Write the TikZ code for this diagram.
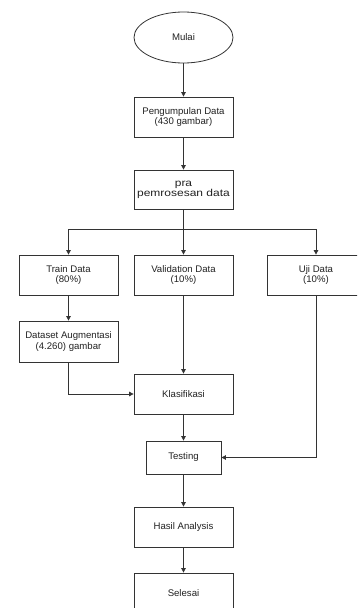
\documentclass[tikz,border=0pt]{standalone}
\usepackage{fontspec}
\setmainfont{Liberation Sans}
\newfontfamily\widefont[FakeStretch=1.2]{Liberation Sans}
\usetikzlibrary{shapes.geometric,arrows.meta}
\definecolor{linec}{HTML}{333333}
\definecolor{textc}{HTML}{222222}
\begin{document}
\begin{tikzpicture}[x=1pt,y=-1pt,
  box/.style={draw=linec, line width=0.8pt, fill=white, align=center, inner sep=0pt,
    minimum width=99pt, minimum height=40pt, font=\fontsize{9.6}{10.6}\selectfont, text=textc},
  arr/.style={draw=linec, line width=0.8pt, -{Triangle[length=4.5pt,width=4.5pt]}},
  plain/.style={draw=linec, line width=0.8pt}]
\useasboundingbox (0,0) rectangle (357,608);
\clip (0,0) rectangle (357,608);
\node[box, ellipse, minimum width=99pt, minimum height=51pt] (mulai) at (183.5,37.5) {Mulai};
\node[box] (peng) at (183.5,117) {Pengumpulan Data\\(430 gambar)};
\node[box, minimum height=39pt, font=\widefont\fontsize{10}{10}\selectfont] (pra) at (183.5,189.5) {pra\\pemrosesan data};
\node[box] (train) at (68.5,275) {Train Data\\(80\%)};
\node[box] (val) at (183.5,275) {Validation Data\\(10\%)};
\node[box, minimum width=98pt] (uji) at (316,275) {Uji Data\\(10\%)};
\node[box, minimum height=41pt] (aug) at (68.5,341.5) {Dataset Augmentasi\\(4.260) gambar};
\node[box] (klas) at (183.5,394) {Klasifikasi};
\node[box, minimum width=75pt, minimum height=33pt] (test) at (183.5,457.5) {Testing};
\node[box] (hasil) at (183.5,527) {Hasil Analysis};
\node[box] (selesai) at (183.5,593) {Selesai};
\coordinate (br) at (183.5,229);
\draw[arr] (mulai.south) -- (peng.north);
\draw[arr] (peng.south) -- (pra.north);
\draw[arr] (pra.south) -- (val.north);
\draw[arr] (br) -| (train.north);
\draw[arr] (br) -| (uji.north);
\draw[arr] (train.south) -- (aug.north);
\draw[arr] (val.south) -- (klas.north);
\draw[arr] (aug.south) |- (klas.west);
\draw[arr] (klas.south) -- (test.north);
\draw[arr] (uji.south) |- (test.east);
\draw[arr] (test.south) -- (hasil.north);
\draw[arr] (hasil.south) -- (selesai.north);
\end{tikzpicture}
\end{document}
